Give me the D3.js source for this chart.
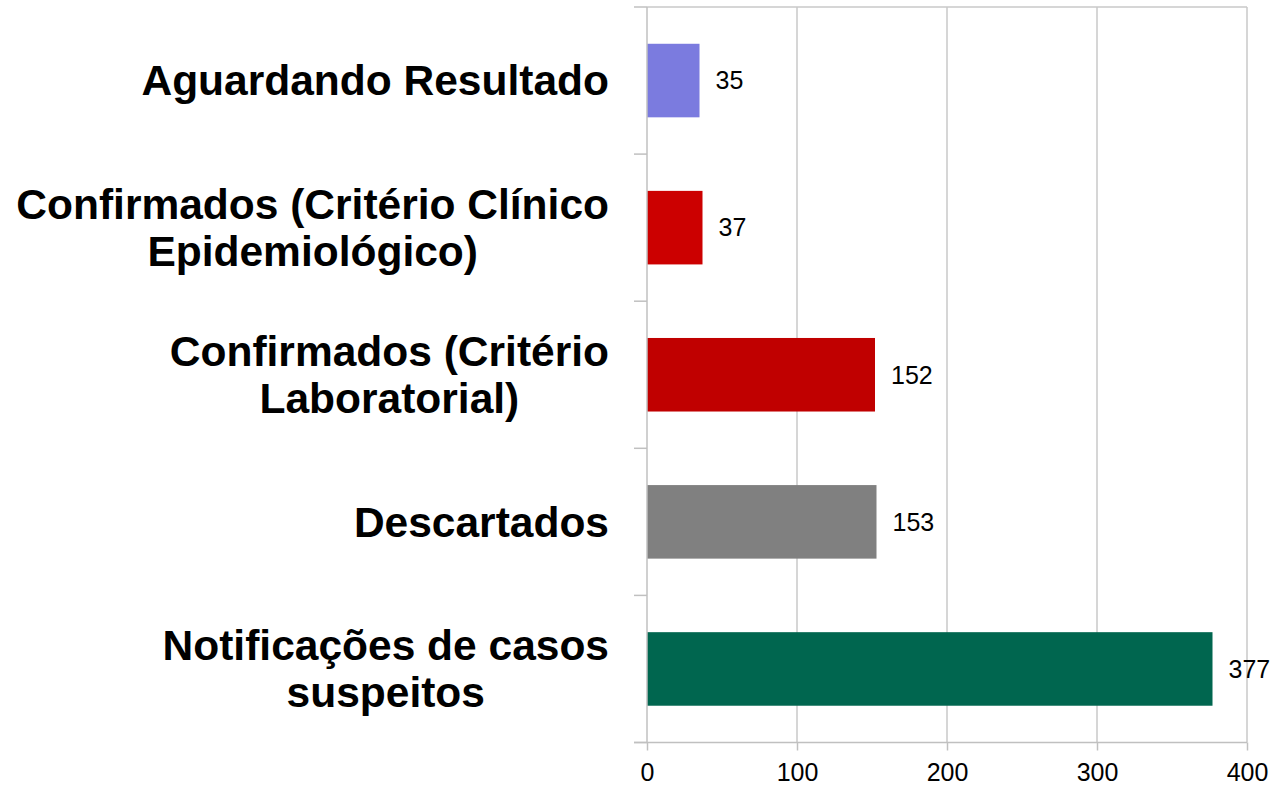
<!DOCTYPE html>
<html>
<head>
<meta charset="utf-8">
<script src="https://cdn.jsdelivr.net/npm/d3@7"></script>
<style>
  body { margin: 0; background: #fff; }
  svg { display: block; font-family: "Liberation Sans", Arial, sans-serif; }
</style>
</head>
<body>
<svg width="1273" height="786"></svg>
<script>
// categories top to bottom, line breaks where the label wraps
var categories = [
  "Aguardando Resultado",
  "Confirmados (Critério Clínico\nEpidemiológico)",
  "Confirmados (Critério\nLaboratorial)",
  "Descartados",
  "Notificações de casos\nsuspeitos"
];
var values = [35, 37, 152, 153, 377];
var colors = ["#7b7bdf", "#cc0000", "#c00000", "#808080", "#00664f"];
var xTicks = [0, 100, 200, 300, 400];

var svg = d3.select("svg");
var plotLeft = 647, plotRight = 1247, plotTop = 7, plotBottom = 742.5;

var x = d3.scaleLinear().domain([0, 400]).range([plotLeft, plotRight]);
var y = d3.scaleBand().domain(categories).range([plotTop, plotBottom])
  .paddingInner(0.5).paddingOuter(0.25);

// gridlines
svg.append("g").selectAll("line")
  .data(xTicks.slice(1))
  .enter().append("line")
  .attr("x1", function(d) { return x(d); })
  .attr("x2", function(d) { return x(d); })
  .attr("y1", plotTop).attr("y2", plotBottom)
  .attr("stroke", "#c8c8c8").attr("stroke-width", 1.5);

// top border
svg.append("line")
  .attr("x1", plotLeft).attr("x2", plotRight)
  .attr("y1", plotTop).attr("y2", plotTop)
  .attr("stroke", "#c8c8c8").attr("stroke-width", 1.5);

// bars
svg.append("g").selectAll("rect")
  .data(values)
  .enter().append("rect")
  .attr("x", x(0))
  .attr("y", function(d, i) { return y(categories[i]); })
  .attr("width", function(d) { return x(d) - x(0); })
  .attr("height", y.bandwidth())
  .attr("fill", function(d, i) { return colors[i]; });

// value labels
svg.append("g").selectAll("text")
  .data(values)
  .enter().append("text")
  .attr("x", function(d) { return x(d) + 16; })
  .attr("y", function(d, i) { return y(categories[i]) + y.bandwidth() / 2; })
  .attr("dy", "0.35em")
  .attr("font-size", 25)
  .attr("fill", "#000")
  .text(function(d) { return d; });

// x axis
var xAxis = svg.append("g")
  .attr("transform", "translate(0," + plotBottom + ")")
  .call(d3.axisBottom(x).tickValues(xTicks).tickSize(8).tickPadding(13));
xAxis.select(".domain").remove();
xAxis.selectAll(".tick line").attr("stroke", "#c0c0c0").attr("stroke-width", 1.5);
xAxis.selectAll(".tick text")
  .attr("font-size", 25)
  .attr("font-family", "Liberation Sans, Arial, sans-serif")
  .attr("fill", "#000");
svg.append("line")
  .attr("x1", plotLeft - 13).attr("x2", plotRight)
  .attr("y1", plotBottom).attr("y2", plotBottom)
  .attr("stroke", "#c0c0c0").attr("stroke-width", 1.5);

// y axis line and ticks at band edges
svg.append("line")
  .attr("x1", plotLeft).attr("x2", plotLeft)
  .attr("y1", plotTop).attr("y2", plotBottom)
  .attr("stroke", "#c0c0c0").attr("stroke-width", 1.5);
var step = y.step();
svg.append("g").selectAll("line")
  .data(d3.range(categories.length + 1))
  .enter().append("line")
  .attr("x1", plotLeft - 13).attr("x2", plotLeft)
  .attr("y1", function(i) { return plotTop + i * step; })
  .attr("y2", function(i) { return plotTop + i * step; })
  .attr("stroke", "#c0c0c0").attr("stroke-width", 1.5);

// category labels: wrapped, lines centred, block right aligned
var labelRight = 609, lineH = 47;
categories.forEach(function(c) {
  var lines = c.split("\n");
  var cy = y(c) + y.bandwidth() / 2;
  var g = svg.append("g");
  var texts = lines.map(function(l, j) {
    return g.append("text")
      .attr("font-size", 42.5)
      .attr("font-weight", "bold")
      .attr("fill", "#000")
      .attr("text-anchor", "middle")
      .attr("y", cy + (j - (lines.length - 1) / 2) * lineH)
      .attr("dy", "0.35em")
      .text(l);
  });
  var w = d3.max(texts, function(t) { return t.node().getComputedTextLength(); });
  texts.forEach(function(t) { t.attr("x", labelRight - w / 2); });
});
</script>
</body>
</html>
